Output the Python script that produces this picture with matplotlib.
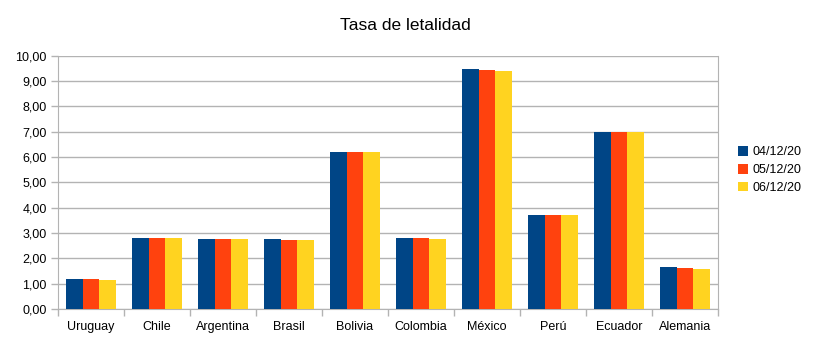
import matplotlib
matplotlib.use("Agg")
import matplotlib.pyplot as plt
import numpy as np

plt.rcParams['font.family'] = ['Liberation Sans', 'DejaVu Sans']

countries = ['Uruguay', 'Chile', 'Argentina', 'Brasil', 'Bolivia',
             'Colombia', 'México', 'Perú', 'Ecuador', 'Alemania']
dates = ['04/12/20', '05/12/20', '06/12/20']
rate_0412 = [1.20, 2.82, 2.76, 2.76, 6.19, 2.79, 9.45, 3.72, 6.98, 1.66]
rate_0512 = [1.17, 2.81, 2.75, 2.72, 6.19, 2.79, 9.42, 3.72, 6.98, 1.62]
rate_0612 = [1.13, 2.81, 2.75, 2.72, 6.18, 2.78, 9.37, 3.71, 6.97, 1.58]
yticks = np.arange(0, 11, 1)

colors = ['#004586', '#ff420e', '#ffd320']
grid_col = '#b3b3b3'
width = 0.25

fig = plt.figure(figsize=(8.13, 3.40), dpi=100)
ax = fig.add_axes([58 / 813, 31 / 340, 660 / 813, 253.5 / 340])

x = np.arange(len(countries))
for i, (vals, lab) in enumerate(zip([rate_0412, rate_0512, rate_0612], dates)):
    ax.bar(x + (i - 1) * width, vals, width, color=colors[i], label=lab,
           zorder=3, linewidth=0)

ax.set_xlim(-0.5, len(countries) - 0.5)
ax.set_ylim(0, 10)
ax.set_yticks(yticks)
ax.yaxis.set_major_formatter(matplotlib.ticker.FuncFormatter(
    lambda v, p: ('%.2f' % v).replace('.', ',')))
ax.set_xticks(x)
ax.set_xticklabels(countries)
ax.set_xticks(np.arange(-0.5, len(countries)), minor=True)
ax.tick_params(axis='x', which='major', length=0, pad=8.5, labelsize=9)
ax.tick_params(axis='x', which='minor', length=5, color=grid_col, width=1)
ax.tick_params(axis='y', length=5, color=grid_col, width=1, pad=3, labelsize=9)

ax.grid(axis='y', color=grid_col, linewidth=1, zorder=0)
for s in ['left', 'right', 'bottom']:
    ax.spines[s].set_color(grid_col)
ax.spines['top'].set_visible(False)

fig.text(405 / 813, 1 - 25 / 340, 'Tasa de letalidad', ha='center', va='center',
         fontsize=12.5)

fig.legend(loc='center left', bbox_to_anchor=(732 / 813, 1 - 170 / 340),
           frameon=False, fontsize=9, handlelength=0.8, handleheight=0.8,
           handletextpad=0.3, labelspacing=0.45, borderpad=0)

fig.savefig('out.png', dpi=100)
